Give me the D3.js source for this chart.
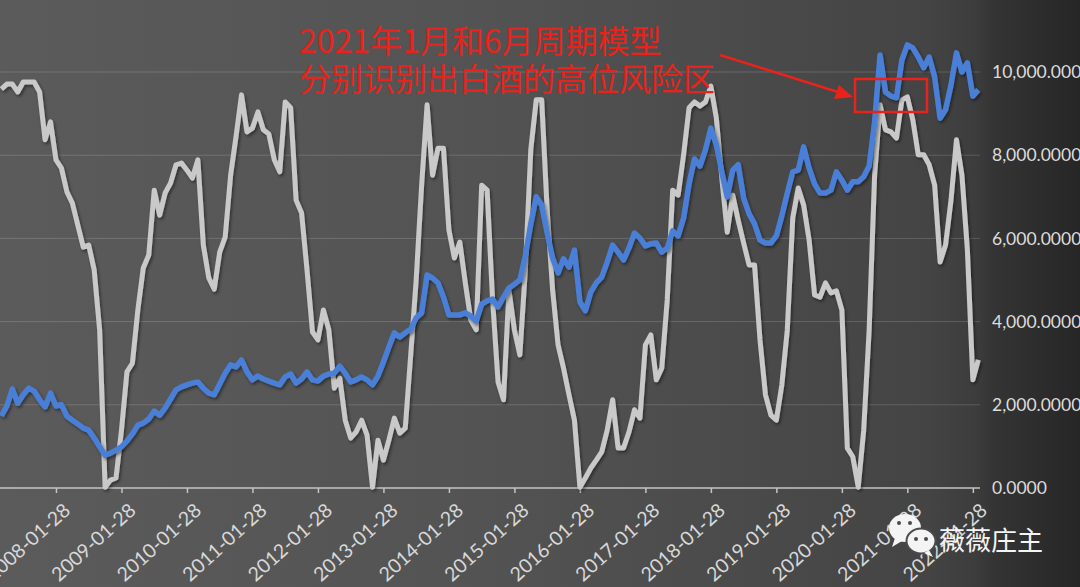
<!DOCTYPE html>
<html>
<head>
<meta charset="utf-8">
<script src="https://cdn.jsdelivr.net/npm/d3@7"></script>
<style>
    html, body { margin: 0; padding: 0; background: #2a2a2a; }
    svg { display: block; }
</style>
</head>
<body>
<script>
// monthly closes, 2007-03 .. 2022-02 (180 points)
const firstMonth = [2007, 3];
const nMonths = 180;

const cycleValues = [
    9590, 9710, 9710, 9520, 9760, 9760, 9760, 9520, 8370, 8800,
    7890, 7690, 7120, 6850, 6320, 5790, 5840, 5240, 3800, 20,
    190, 240, 1390, 2790, 3000, 4280, 5290, 5600, 7160, 6560,
    7090, 7330, 7770, 7810, 7640, 7450, 7890, 5840, 5050, 4780,
    5670, 6030, 7520, 8460, 9450, 8560, 8650, 9040, 8610, 8510,
    7890, 7600, 9280, 9140, 6920, 6610, 5240, 3750, 3560, 4280,
    3800, 2400, 2640, 1630, 1200, 1350, 1630, 1270, 20, 1150,
    670, 1150, 1680, 1320, 1440, 3200, 5000, 7280, 9210, 7520,
    8170, 8170, 6200, 5530, 5910, 4930, 4040, 3800, 7280, 7160,
    4520, 2550, 2120, 4760, 3800, 3200, 5240, 8130, 9330, 9330,
    6680, 4760, 3440, 2880, 2240, 1630, 20, 240, 480, 670,
    870, 1390, 2120, 960, 960, 1350, 1880, 1680, 3440, 3680,
    2600, 2880, 4520, 7160, 7040, 8010, 9140, 9280, 9180, 9280,
    9660, 8890, 7450, 6150, 7040, 6440, 5890, 5360, 5360, 3560,
    2240, 1750, 1630, 2480, 3800, 6490, 7210, 6800, 5960, 4640,
    4590, 4930, 4690, 4740, 4280, 960, 750, 20, 1390, 3800,
    7520, 9210, 8610, 8560, 8410, 9330, 9400, 8850, 8010, 8010,
    7770, 7280, 5430, 5840, 6920, 8370, 7520, 5720, 2600, 3080
];

const priceValues = [
    1730, 1970, 2380, 2040, 2240, 2400, 2330, 2120, 1950, 2280,
    1970, 2000, 1730, 1630, 1540, 1440, 1390, 1200, 990, 790,
    840, 910, 990, 1130, 1300, 1510, 1560, 1660, 1850, 1750,
    1920, 2140, 2360, 2430, 2480, 2520, 2550, 2400, 2280, 2240,
    2500, 2760, 2960, 2910, 3080, 2790, 2600, 2690, 2620, 2570,
    2520, 2480, 2670, 2740, 2520, 2620, 2790, 2600, 2570, 2690,
    2740, 2760, 2930, 2760, 2550, 2600, 2670, 2600, 2480, 2690,
    3030, 3390, 3730, 3630, 3730, 3820, 4090, 4210, 5120, 5050,
    4930, 4590, 4160, 4160, 4160, 4210, 4130, 4010, 4420, 4500,
    4540, 4350, 4590, 4810, 4900, 5000, 5580, 6350, 7000, 6800,
    6130, 5530, 5170, 5510, 5310, 5720, 4470, 4260, 4710, 4930,
    5070, 5430, 5840, 5670, 5480, 5770, 6130, 6010, 5820, 5870,
    5890, 5670, 5770, 6180, 6060, 6490, 7310, 7910, 7740, 8130,
    8650, 8250, 7600, 7000, 7640, 7770, 6970, 6590, 6350, 5960,
    5890, 5890, 6060, 6540, 7090, 7600, 7640, 8200, 7690, 7310,
    7090, 7090, 7160, 7600, 7400, 7160, 7360, 7360, 7480, 7740,
    8800, 10410, 9520, 9420, 9380, 10290, 10650, 10580, 10360, 10100,
    10360, 9880, 8890, 9090, 9690, 10460, 10000, 10220, 9420, 9570
];

const yTicks = [0, 2000, 4000, 6000, 8000, 10000];
const xTickLabels = [
    "2008-01-28", "2009-01-28", "2010-01-28", "2011-01-28", "2012-01-28",
    "2013-01-28", "2014-01-28", "2015-01-28", "2016-01-28", "2017-01-28",
    "2018-01-28", "2019-01-28", "2020-01-28", "2021-01-28", "2022-01-28"
];

const noteLines = ["2021年1月和6月周期模型", "分别识别出白酒的高位风险区"];
const watermark = "薇薇庄主";

// month labels for the category axis
let months = [];
for (let i = 0; i < nMonths; i++) {
    let y = firstMonth[0] + Math.floor((firstMonth[1] - 1 + i) / 12);
    let m = (firstMonth[1] - 1 + i) % 12 + 1;
    months.push(y + "-" + (m < 10 ? "0" + m : m) + "-28");
}

const width = 1080;
const height = 587;
const plotRight = 980;

const svg = d3.select("body").append("svg")
    .attr("width", width)
    .attr("height", height);

const defs = svg.append("defs");
const bg = defs.append("linearGradient").attr("id", "bg")
    .attr("x1", 0).attr("x2", 1).attr("y1", 0).attr("y2", 0);
[[0, "#5b5b5b"], [0.45, "#535353"], [0.86, "#444444"], [0.905, "#3c3c3c"], [0.92, "#343434"], [1, "#262626"]]
    .forEach(s => bg.append("stop").attr("offset", s[0]).attr("stop-color", s[1]));

const shadow = defs.append("filter").attr("id", "shadow")
    .attr("x", "-5%").attr("y", "-5%").attr("width", "110%").attr("height", "110%");
shadow.append("feDropShadow")
    .attr("dx", 1.5).attr("dy", 2).attr("stdDeviation", 1.5)
    .attr("flood-color", "#000").attr("flood-opacity", 0.45);

svg.append("rect").attr("width", width).attr("height", height).attr("fill", "url(#bg)");

const x = d3.scalePoint()
    .domain(months)
    .range([1.4, 978.3]);

const y = d3.scaleLinear()
    .domain([0, 10000])
    .range([488, 72]);

// gridlines
svg.append("g")
    .selectAll("line")
    .data(yTicks.slice(1))
    .enter().append("line")
    .attr("x1", 0).attr("x2", plotRight)
    .attr("y1", d => y(d)).attr("y2", d => y(d))
    .attr("stroke", "#ffffff").attr("stroke-opacity", 0.16).attr("stroke-width", 1);

// right axis
const yAxis = svg.append("g")
    .attr("transform", "translate(" + plotRight + ",0)")
    .call(d3.axisRight(y).tickValues(yTicks).tickSize(0).tickPadding(12)
        .tickFormat(d => d3.format(",.4f")(d)));
yAxis.select(".domain").remove();
yAxis.selectAll("text")
    .attr("fill", "#dcdcdc")
    .style("font-family", "Lato, 'Open Sans', sans-serif")
    .style("font-size", "17.5px");

// bottom axis
const xAxis = svg.append("g")
    .attr("transform", "translate(0,488)")
    .call(d3.axisBottom(x).tickValues(xTickLabels).tickSize(5).tickSizeOuter(0));
xAxis.select(".domain")
    .attr("d", "M0,0H" + plotRight)
    .attr("stroke", "#c4c4c4").attr("stroke-width", 1.5);
xAxis.selectAll(".tick line").attr("stroke", "#c4c4c4").attr("stroke-width", 1.5);
xAxis.selectAll("text")
    .attr("fill", "#d8d8d8")
    .attr("text-anchor", "end")
    .attr("transform", "translate(6,14) rotate(-42)")
    .attr("dy", "0.7em")
    .attr("y", 0)
    .style("font-family", "Lato, 'Open Sans', sans-serif")
    .style("font-size", "19.5px");

const line = d3.line()
    .x((d, i) => x(months[i]))
    .y(d => y(d));

svg.append("path")
    .datum(cycleValues)
    .attr("fill", "none")
    .attr("stroke", "#c9c9c9")
    .attr("stroke-width", 5)
    .attr("stroke-linejoin", "round")
    .attr("filter", "url(#shadow)")
    .attr("d", line);

svg.append("path")
    .datum(priceValues)
    .attr("fill", "none")
    .attr("stroke", "#4a7fd6")
    .attr("stroke-width", 5.5)
    .attr("stroke-linejoin", "round")
    .attr("filter", "url(#shadow)")
    .attr("d", line);

// annotation, one text block with two lines
const red = "#e8231b";
svg.append("text")
    .attr("fill", red)
    .style("font-family", "'Noto Sans CJK SC', sans-serif")
    .style("font-size", "32px")
    .selectAll("tspan")
    .data(noteLines)
    .enter().append("tspan")
    .attr("x", 299)
    .attr("y", (d, i) => 53 + i * 38)
    .text(d => d);

svg.append("rect")
    .attr("x", 855).attr("y", 79).attr("width", 72).attr("height", 33)
    .attr("fill", "none").attr("stroke", red).attr("stroke-width", 2.5);

svg.append("line")
    .attr("x1", 720).attr("y1", 55).attr("x2", 838).attr("y2", 92)
    .attr("stroke", red).attr("stroke-width", 2.5);
svg.append("path")
    .attr("d", "M853,97 L834,99 L839,85 Z")
    .attr("fill", red);

// watermark
const wm = svg.append("g");
wm.append("ellipse").attr("cx", 905).attr("cy", 528).attr("rx", 16).attr("ry", 14).attr("fill", "#f4f4f4");
wm.append("path").attr("d", "M895,538 L892,547 L902,541 Z").attr("fill", "#f4f4f4");
wm.append("ellipse").attr("cx", 921).attr("cy", 541).attr("rx", 14.5).attr("ry", 12.5)
    .attr("fill", "#f4f4f4").attr("stroke", "#4a4a4a").attr("stroke-width", 2);
wm.append("path").attr("d", "M929,550 L933,557 L924,553 Z").attr("fill", "#f4f4f4");
[[899, 523], [910, 523], [916, 539], [926, 539]].forEach(p => {
    wm.append("circle").attr("cx", p[0]).attr("cy", p[1]).attr("r", 2).attr("fill", "#4a4a4a");
});
wm.append("text")
    .attr("x", 939).attr("y", 550)
    .attr("fill", "#f4f4f4")
    .style("font-family", "'Noto Sans CJK SC', sans-serif")
    .style("font-size", "26px")
    .text(watermark);
</script>
</body>
</html>
